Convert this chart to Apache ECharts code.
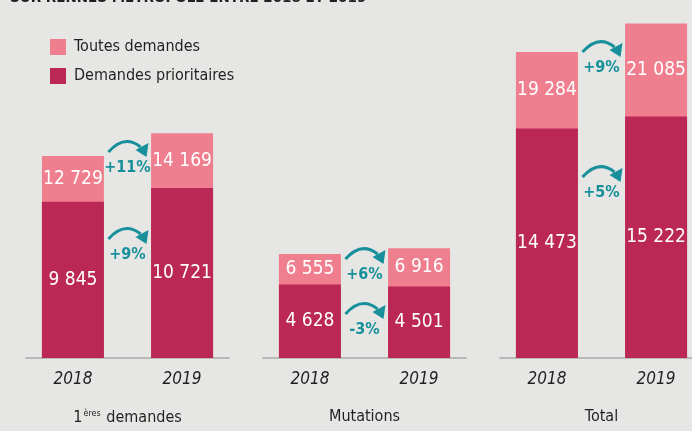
<!DOCTYPE html>
<html>
<head>
<meta charset="utf-8">
<script src="https://cdn.jsdelivr.net/npm/echarts@6/dist/echarts.min.js"></script>
<style>
html,body{margin:0;padding:0;background:#e6e6e4;}
#chart{width:692px;height:431px;}
</style>
</head>
<body>
<div id="chart"></div>
<script>
// ---- data ----
const years = ['2018', '2019'];
const groupTitles = ['{n|1}{s|ères}{n| demandes}', 'Mutations', 'Total'];
const totalFirst = [12729, 14169];
const prioFirst = [9845, 10721];
const totalMutations = [6555, 6916];
const prioMutations = [4628, 4501];
const totalAll = [19284, 21085];
const prioAll = [14473, 15222];
const growthTotal = ['+11%', '+6%', '+9%'];
const growthPrio = ['+9%', '-3%', '+5%'];
const titleText = 'SUR RENNES MÉTROPOLE ENTRE 2018 ET 2019';
// ---- annotation anchor levels (value units) ----
const growthTotalLevel = [11977, 5232, 18280];
const growthPrioLevel = [6493, 1765, 10401];

const totals = [totalFirst, totalMutations, totalAll];
const prios = [prioFirst, prioMutations, prioAll];

const FONT = '"DejaVu Sans Condensed", "DejaVu Sans", sans-serif';
const LIGHT = '#ef7f8f';
const DARK = '#bb2855';
const TEAL = '#17909b';
const TEXT = '#231f20';

function fmt(v) { return String(v).replace(/\B(?=(\d{3})+(?!\d))/g, ' '); }

const grids = [], xAxes = [], yAxes = [], series = [];
const lefts = [26, 263, 500];
for (let g = 0; g < 3; g++) {
  grids.push({ left: lefts[g], width: 203, top: 9, bottom: 73, outerBoundsMode: 'none', containLabel: false });
  xAxes.push({
    type: 'value', gridIndex: g, min: -0.43, max: 1.43,
    axisLine: { show: true, onZero: false, lineStyle: { color: '#b8b8b8', width: 2 } },
    axisTick: { show: false },
    splitLine: { show: false },
    axisLabel: {
      customValues: [0, 1],
      formatter: v => years[Math.round(v)],
      color: TEXT, fontFamily: FONT, fontSize: 17, fontStyle: 'italic', margin: 13
    },
    name: groupTitles[g], nameLocation: 'middle', nameGap: 51,
    nameTextStyle: {
      color: TEXT, fontFamily: FONT, fontSize: 16,
      rich: {
        n: { fontFamily: FONT, fontSize: 16, color: TEXT },
        s: { fontFamily: FONT, fontSize: 9, color: TEXT, verticalAlign: 'top', padding: [0, 1, 8, 1] }
      }
    }
  });
  yAxes.push({ type: 'value', gridIndex: g, min: 0, max: 22000, show: false });

  const tot = totals[g], pr = prios[g];
  series.push({
    type: 'bar', name: 'Toutes demandes', xAxisIndex: g, yAxisIndex: g,
    barWidth: 62, barGap: '-100%',
    itemStyle: { color: LIGHT },
    data: tot.map((v, i) => [i, v])
  });
  series.push({
    type: 'bar', name: 'Demandes prioritaires', xAxisIndex: g, yAxisIndex: g,
    barWidth: 62, barGap: '-100%',
    itemStyle: { color: DARK },
    label: { show: true, position: 'inside', color: '#fff', fontFamily: FONT, fontSize: 19 },
    data: pr.map((v, i) => ({ value: [i, v], label: { formatter: fmt(v) } }))
  });
  // labels of the light (total) segment, centred in the visible part
  series.push({
    type: 'custom', xAxisIndex: g, yAxisIndex: g, z: 4, clip: false,
    data: tot.map((v, i) => [i, v, pr[i]]),
    renderItem: function (params, api) {
      const t = api.value(1), p = api.value(2);
      const c = api.coord([api.value(0), (t + p) / 2]);
      return { type: 'text', x: c[0], y: c[1],
        style: { text: fmt(t), fill: '#fff', font: '19px ' + FONT, align: 'center', verticalAlign: 'middle' } };
    }
  });
  const texts = [growthTotal[g], growthPrio[g]];
  series.push({
    type: 'custom', xAxisIndex: g, yAxisIndex: g, z: 5, clip: false,
    data: [[0.5, growthTotalLevel[g]], [0.5, growthPrioLevel[g]]],
    renderItem: function (params, api) {
      const c = api.coord([api.value(0), api.value(1)]);
      const x = c[0], y = c[1];
      return {
        type: 'group',
        children: [
          { type: 'bezierCurve',
            shape: { x1: x - 19, y1: y - 16, cpx1: x - 3, cpy1: y - 34, x2: x + 13, y2: y - 21 },
            style: { stroke: TEAL, lineWidth: 3, fill: null } },
          { type: 'polygon',
            shape: { points: [[x + 8, y - 18], [x + 21, y - 25], [x + 19, y - 11]] },
            style: { fill: TEAL } },
          { type: 'text', x: x, y: y,
            style: { text: texts[params.dataIndex], fill: TEAL, font: 'bold 16px ' + FONT,
              align: 'center', verticalAlign: 'middle' } }
        ]
      };
    }
  });
}

const chart = echarts.init(document.getElementById('chart'), null, { renderer: 'canvas' });
chart.setOption({
  backgroundColor: '#e6e6e4',
  animation: false,
  legend: {
    data: ['Toutes demandes', 'Demandes prioritaires'],
    orient: 'vertical', left: 50, top: 39, padding: 0,
    itemWidth: 16, itemHeight: 16, itemGap: 13,
    icon: 'rect',
    textStyle: { color: TEXT, fontFamily: FONT, fontSize: 16, padding: [0, 0, 0, 3] }
  },
  graphic: [{
    type: 'text', x: 10, y: 5, z: 10,
    style: { text: titleText, fill: TEXT, font: 'bold 13.5px "DejaVu Sans", sans-serif',
      align: 'left', verticalAlign: 'bottom' }
  }],
  grid: grids,
  xAxis: xAxes,
  yAxis: yAxes,
  series: series
});
</script>
</body>
</html>
